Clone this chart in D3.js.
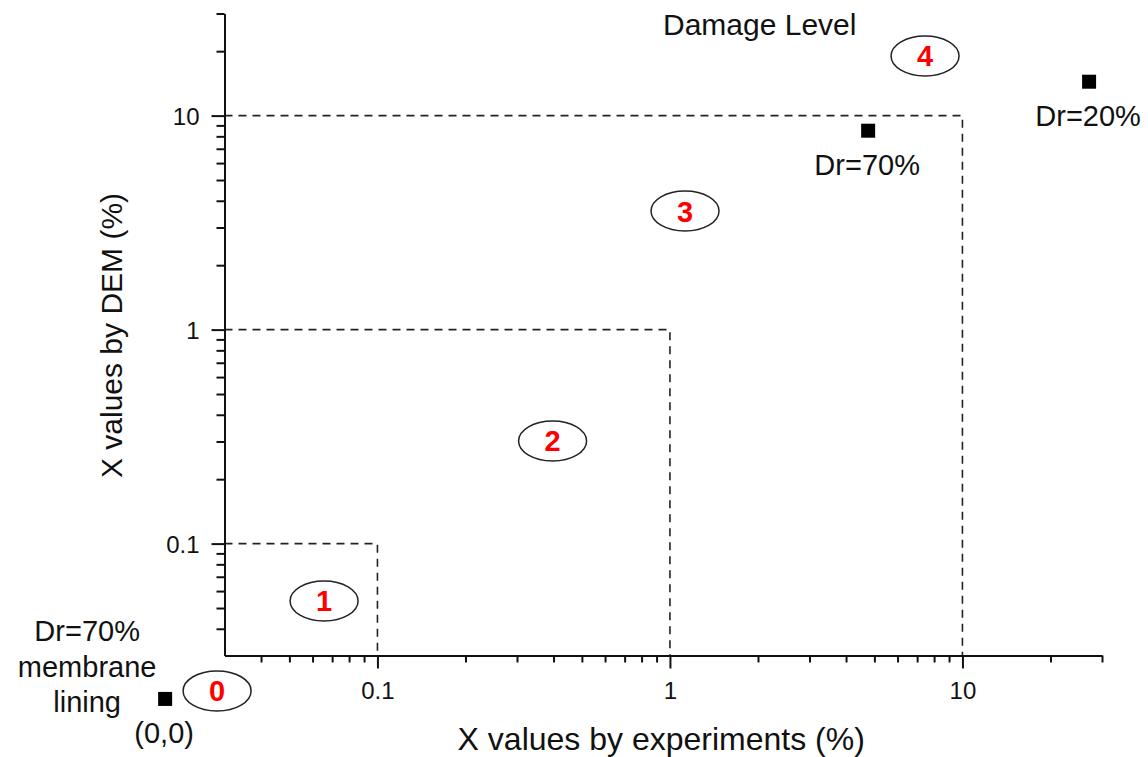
<!DOCTYPE html>
<html>
<head>
<meta charset="utf-8">
<script src="https://cdn.jsdelivr.net/npm/d3@7"></script>
<style>
  body { margin: 0; background: #fff; }
  svg text { font-family: "Liberation Sans", Arial, Helvetica, sans-serif; }
</style>
</head>
<body>
<svg id="chart" width="1148" height="757"></svg>
<script>
// Axis extents (percent), both logarithmic
const xDomain = [0.03, 30];
const yDomain = [0.03, 30];

// Labelled decade ticks
const majorTicks = [0.1, 1, 10];
const majorTickLabels = ["0.1", "1", "10"];

// Upper bounds of damage levels 1-3 (dashed boxes)
const levelBounds = [0.1, 1, 10];

// Measured points: X by experiments vs X by DEM
const pointNames = ["Dr=70%", "Dr=20%"];
const pointExp = [4.76, 27.1];
const pointDem = [8.5, 14.4];

// The (0,0) case sits off the log axes; it is drawn at this stand-in value
const zeroStandIn = 0.0188;
const zeroCaption = ["Dr=70%", "membrane", "lining"];
const zeroLabel = "(0,0)";

// Damage level markers (placed in data coordinates)
const levelNames = ["0", "1", "2", "3", "4"];
const levelExp = [0.0283, 0.0657, 0.397, 1.126, 7.45];
const levelDem = [0.0205, 0.0539, 0.3015, 3.58, 19.0];

const chartTitle = "Damage Level";
const xTitle = "X values by experiments (%)";
const yTitle = "X values by DEM (%)";

const svg = d3.select("#chart");
const ink = "#111";

const x = d3.scaleLog().domain(xDomain).range([224.5, 1102]);
const y = d3.scaleLog().domain(yDomain).range([655.5, 13.5]);

const isMajor = v => majorTicks.some(m => Math.abs(m - v) / m < 1e-9);
const xMinor = x.ticks().filter(v => !isMajor(v) && v > xDomain[0] * 1.001);
const yMinor = y.ticks().filter(v => !isMajor(v) && v > yDomain[0] * 1.001);

// Dashed level boundaries
const boxes = svg.append("g");
levelBounds.forEach(b => {
  boxes.append("path")
    .attr("d", `M${x(xDomain[0])},${y(b)}H${x(b)}V${y(yDomain[0])}`)
    .attr("fill", "none")
    .attr("stroke", "#222")
    .attr("stroke-width", 1.6)
    .attr("stroke-dasharray", "8,6");
});

// X axis: minor ticks then major ticks with labels
const xAxisY = y(yDomain[0]);
svg.append("g")
  .attr("transform", `translate(0,${xAxisY})`)
  .call(d3.axisBottom(x).tickValues(xMinor).tickSize(7).tickSizeOuter(0).tickFormat(""))
  .call(g => g.select(".domain").remove());
const gx = svg.append("g")
  .attr("transform", `translate(0,${xAxisY})`)
  .call(d3.axisBottom(x).tickValues(majorTicks).tickSize(13).tickSizeOuter(0)
    .tickPadding(14).tickFormat((d, i) => majorTickLabels[i]));

// Y axis
const yAxisX = x(xDomain[0]);
svg.append("g")
  .attr("transform", `translate(${yAxisX},0)`)
  .call(d3.axisLeft(y).tickValues(yMinor).tickSize(8).tickSizeOuter(0).tickFormat(""))
  .call(g => g.select(".domain").remove());
const gy = svg.append("g")
  .attr("transform", `translate(${yAxisX},0)`)
  .call(d3.axisLeft(y).tickValues(majorTicks).tickSize(13).tickSizeOuter(0)
    .tickPadding(12).tickFormat((d, i) => majorTickLabels[i]));

svg.selectAll(".domain").attr("stroke", ink).attr("stroke-width", 2);
svg.selectAll(".tick line").attr("stroke", ink).attr("stroke-width", 2);
gx.attr("font-family", null).attr("font-size", null);
gy.attr("font-family", null).attr("font-size", null);
svg.selectAll(".tick text")
  .attr("font-size", 24)
  .attr("fill", ink);
gx.selectAll(".tick text").attr("dy", "0.68em");
gy.selectAll(".tick text").attr("dy", "0.35em");

// Axis titles
svg.append("text")
  .attr("x", x(Math.sqrt(xDomain[0] * xDomain[1])) - 2)
  .attr("y", 750)
  .attr("text-anchor", "middle")
  .attr("font-size", 32)
  .attr("fill", ink)
  .text(xTitle);
svg.append("text")
  .attr("transform", `translate(122,${y(Math.sqrt(yDomain[0] * yDomain[1])) + 1}) rotate(-90)`)
  .attr("text-anchor", "middle")
  .attr("font-size", 30)
  .attr("fill", ink)
  .text(yTitle);

// Title annotation
svg.append("text")
  .attr("x", 663)
  .attr("y", 35)
  .attr("font-size", 30)
  .attr("fill", ink)
  .text(chartTitle);

// Damage level ellipses with red numbers
const levels = svg.append("g");
levelNames.forEach((name, i) => {
  const cx = x(levelExp[i]), cy = y(levelDem[i]);
  levels.append("ellipse")
    .attr("cx", cx).attr("cy", cy)
    .attr("rx", 34).attr("ry", 20)
    .attr("fill", "none")
    .attr("stroke", "#222")
    .attr("stroke-width", 1.5);
  levels.append("text")
    .attr("x", cx).attr("y", cy)
    .attr("dy", "0.36em")
    .attr("text-anchor", "middle")
    .attr("font-size", 29)
    .attr("font-weight", "bold")
    .attr("fill", "#ff0000")
    .text(name);
});

// Measured points with labels below
const sq = 14;
const pts = svg.append("g");
pointNames.forEach((name, i) => {
  const px = x(pointExp[i]), py = y(pointDem[i]);
  pts.append("rect")
    .attr("x", px - sq / 2).attr("y", py - sq / 2)
    .attr("width", sq).attr("height", sq)
    .attr("fill", "#000");
  pts.append("text")
    .attr("x", px - 1).attr("y", py + 44)
    .attr("text-anchor", "middle")
    .attr("font-size", 29)
    .attr("fill", ink)
    .text(name);
});

// Zero case, drawn just outside the axes
const zx = x(zeroStandIn), zy = y(zeroStandIn);
pts.append("rect")
  .attr("x", zx - sq / 2).attr("y", zy - sq / 2)
  .attr("width", sq).attr("height", sq)
  .attr("fill", "#000");
pts.append("text")
  .attr("x", zx - 1).attr("y", zy + 44)
  .attr("text-anchor", "middle")
  .attr("font-size", 29)
  .attr("fill", ink)
  .text(zeroLabel);
zeroCaption.forEach((line, i) => {
  pts.append("text")
    .attr("x", zx - 78).attr("y", zy - 57.5 + i * 35.5)
    .attr("text-anchor", "middle")
    .attr("font-size", 29)
    .attr("fill", ink)
    .text(line);
});
</script>
</body>
</html>
